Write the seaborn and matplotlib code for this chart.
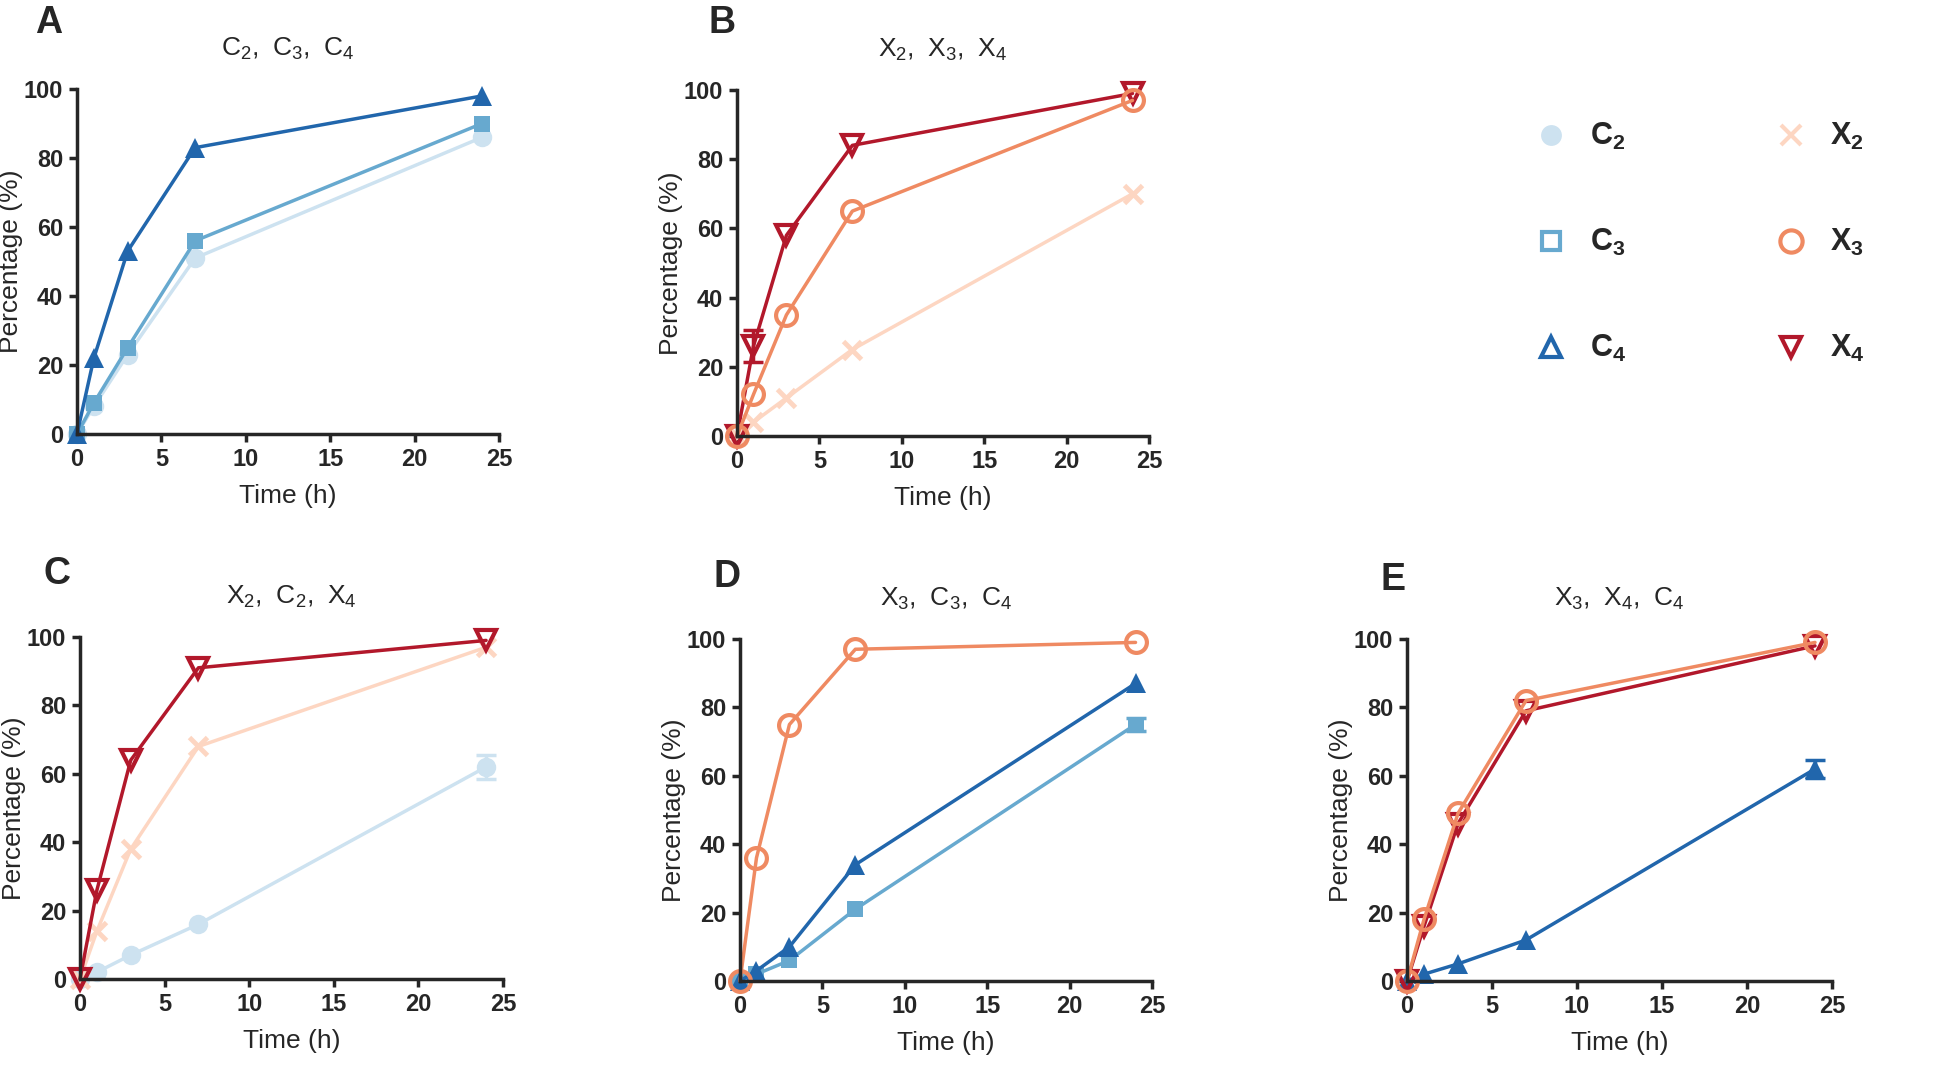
import matplotlib
matplotlib.use('Agg')
import matplotlib.pyplot as plt
import matplotlib.lines as mlines
import seaborn as sns

# time points (h)
time_h = [0, 1, 3, 7, 24]

# A: C2, C3, C4
a_c2 = [0, 8, 23, 51, 86]
a_c3 = [0, 9, 25, 56, 90]
a_c4 = [0, 22, 53, 83, 98]

# B: X2, X3, X4
b_x2 = [0, 4, 11, 25, 70]
b_x3 = [0, 12, 35, 65, 97]
b_x4 = [0, 26, 58, 84, 99]
b_x4_err = [0, 4.5, 0, 0, 0]

# C: X2, C2, X4
c_x2 = [0, 14, 38, 68, 97]
c_c2 = [0, 2, 7, 16, 62]
c_c2_err = [0, 0, 0, 0, 3.5]
c_x4 = [0, 26, 64, 91, 99]

# D: X3, C3, C4
d_x3 = [0, 36, 75, 97, 99]
d_c3 = [0, 2, 6, 21, 75]
d_c3_err = [0, 0, 0, 0, 2]
d_c4 = [0, 3, 10, 34, 87]

# E: X3, X4, C4
e_x3 = [0, 18, 49, 82, 99]
e_x4 = [0, 16, 46, 79, 98]
e_c4 = [0, 2, 5, 12, 62]
e_c4_err = [0, 0, 0, 0, 2.5]

styles = {
    'C2': dict(color='#cde2f0', marker='o', ms=14, mfc='#cde2f0', mew=0),
    'C3': dict(color='#67a9cf', marker='s', ms=12, mfc='#67a9cf', mew=0),
    'C4': dict(color='#2166ac', marker='^', ms=14, mfc='#2166ac', mew=0),
    'X2': dict(color='#fdd6c2', marker='x', ms=13, mfc='none', mew=3.5),
    'X3': dict(color='#ef8a62', marker='o', ms=15, mfc='none', mew=3),
    'X4': dict(color='#b2182b', marker='v', ms=14, mfc='none', mew=3),
}

fam = ['Liberation Sans', 'Arial', 'DejaVu Sans']

sns.set_style('ticks')
plt.rcParams['font.family'] = fam

fig = plt.figure(figsize=(19.6, 10.69), dpi=100)
W, H = 1960, 1069


def add_axes(left, right, top, bottom):
    return fig.add_axes([left / W, 1 - bottom / H, (right - left) / W, (bottom - top) / H])


panels = [
    dict(box=(77, 499, 89, 434), title=r'$\mathregular{C_2,\ C_3,\ C_4}$', letter='A', lpos=(35, 33),
         lines=[('C2', a_c2, None), ('C3', a_c3, None), ('C4', a_c4, None)]),
    dict(box=(737, 1149, 90, 436), title=r'$\mathregular{X_2,\ X_3,\ X_4}$', letter='B', lpos=(708, 33),
         lines=[('X2', b_x2, None), ('X4', b_x4, b_x4_err), ('X3', b_x3, None)]),
    dict(box=(80, 503, 637, 979), title=r'$\mathregular{X_2,\ C_2,\ X_4}$', letter='C', lpos=(43, 584),
         lines=[('C2', c_c2, c_c2_err), ('X2', c_x2, None), ('X4', c_x4, None)]),
    dict(box=(740, 1152, 639, 981), title=r'$\mathregular{X_3,\ C_3,\ C_4}$', letter='D', lpos=(713, 587),
         lines=[('C3', d_c3, d_c3_err), ('C4', d_c4, None), ('X3', d_x3, None)]),
    dict(box=(1407, 1832, 639, 981), title=r'$\mathregular{X_3,\ X_4,\ C_4}$', letter='E', lpos=(1380, 590),
         lines=[('C4', e_c4, e_c4_err), ('X4', e_x4, None), ('X3', e_x3, None)]),
]

for p in panels:
    ax = add_axes(*p['box'])
    wpx = p['box'][1] - p['box'][0]
    hpx = p['box'][3] - p['box'][2]
    for name, vals, err in p['lines']:
        st = styles[name]
        sns.lineplot(x=time_h, y=vals, ax=ax, color=st['color'], linewidth=2.5,
                     marker=st['marker'], markersize=st['ms'],
                     markerfacecolor=st['mfc'], markeredgecolor=st['color'],
                     markeredgewidth=st['mew'], clip_on=False)
        if err is not None:
            idx = [i for i, e in enumerate(err) if e > 0]
            ax.errorbar([time_h[i] for i in idx], [vals[i] for i in idx],
                        yerr=[err[i] for i in idx], fmt='none', ecolor=st['color'],
                        elinewidth=2.5, capsize=7, capthick=2.5, clip_on=False)
    ax.set_xlim(0, 25)
    ax.set_ylim(0, 100)
    ax.set_xticks([0, 5, 10, 15, 20, 25])
    ax.set_yticks([0, 20, 40, 60, 80, 100])
    sns.despine(ax=ax)
    for s in ['left', 'bottom']:
        ax.spines[s].set_linewidth(2.5)
    ax.tick_params(direction='out', length=6, width=2.5, pad=4)
    for lab in ax.get_xticklabels() + ax.get_yticklabels():
        lab.set_fontweight('bold')
        lab.set_fontsize(17)
    ax.set_xlabel('Time (h)', fontsize=19)
    ax.set_ylabel('Percentage (%)', fontsize=19)
    ax.xaxis.set_label_coords(0.5, -50 / hpx)
    ax.yaxis.set_label_coords(-54 / wpx, 0.5)
    ax.set_title(p['title'], fontsize=19, pad=24)
    fig.text(p['lpos'][0] / W, 1 - p['lpos'][1] / H, p['letter'], fontsize=27,
             fontweight='bold', va='baseline', ha='left')

# legend in the empty top-right slot: one column for C, one for X
fs = 22
for names, left in [(['C2', 'C3', 'C4'], 1520), (['X2', 'X3', 'X4'], 1760)]:
    handles = []
    labels = []
    for name in names:
        st = styles[name]
        mfc = 'none' if name in ('C3', 'C4') else st['mfc']
        handles.append(mlines.Line2D([], [], linestyle='none', marker=st['marker'],
                                     markersize=st['ms'] + 1, markerfacecolor=mfc,
                                     markeredgecolor=st['color'],
                                     markeredgewidth=3 if mfc == 'none' else 0))
        labels.append(r'$\mathregular{%s_%s}$' % (name[0], name[1]))
    leg = fig.legend(handles, labels, loc='upper left', bbox_to_anchor=(left / W, 1 - 106 / H),
                     frameon=False, prop=dict(weight='bold', size=fs), borderpad=0,
                     labelspacing=2.45, handlelength=1.0, handletextpad=0.8)

fig.savefig('out.png', dpi=100)
